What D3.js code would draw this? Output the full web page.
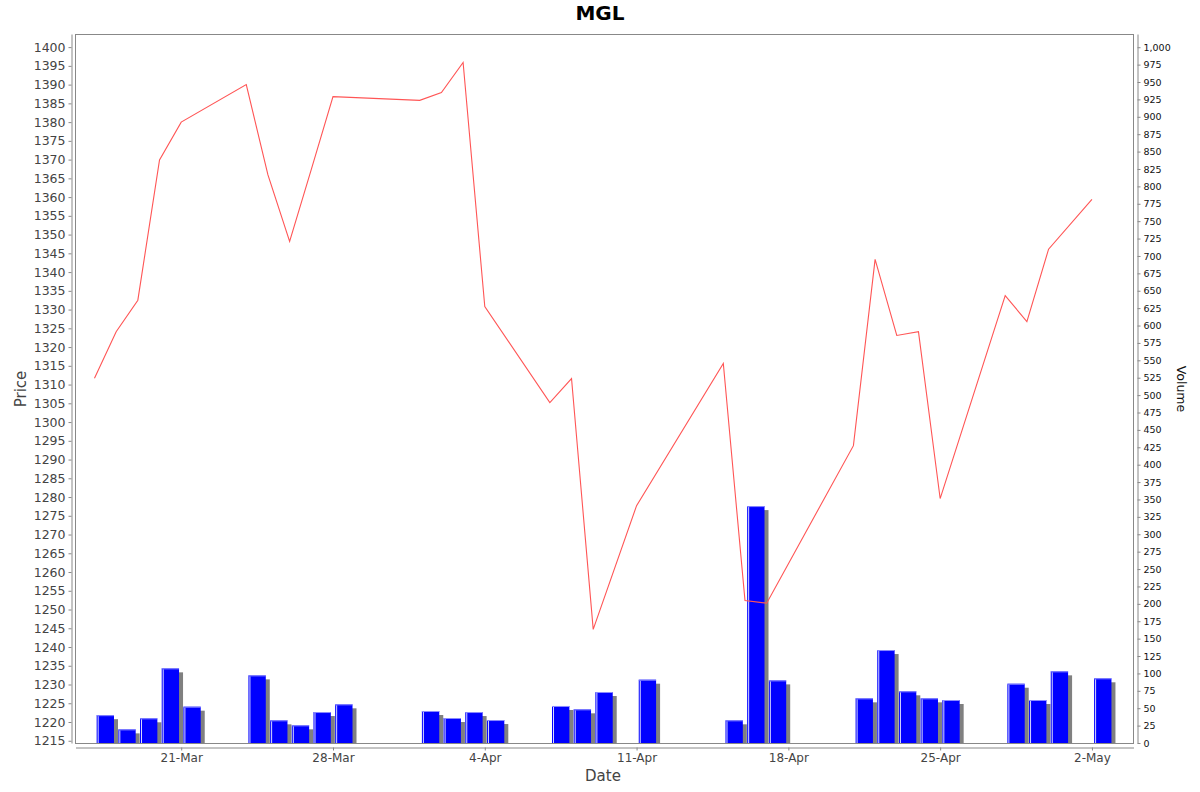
<!DOCTYPE html>
<html>
<head>
<meta charset="utf-8">
<script src="https://cdn.jsdelivr.net/npm/d3@7"></script>
<style>
  body { margin: 0; background: #fff; }
  text { font-family: "DejaVu Sans", sans-serif; }
</style>
</head>
<body>
<svg id="chart" width="1200" height="792"></svg>
<script>
// trading days (NSE, 2025)
const dates = [
  "2025-03-17", "2025-03-18", "2025-03-19", "2025-03-20", "2025-03-21",
  "2025-03-24", "2025-03-25", "2025-03-26", "2025-03-27", "2025-03-28",
  "2025-04-01", "2025-04-02", "2025-04-03", "2025-04-04",
  "2025-04-07", "2025-04-08", "2025-04-09", "2025-04-11",
  "2025-04-15", "2025-04-16", "2025-04-17",
  "2025-04-21", "2025-04-22", "2025-04-23", "2025-04-24", "2025-04-25",
  "2025-04-28", "2025-04-29", "2025-04-30", "2025-05-02"
];
const prices = [
  1311.7, 1324.1, 1332.5, 1369.9, 1380.0,
  1390.0, 1365.9, 1348.2, 1367.4, 1386.8,
  1385.8, 1387.9, 1395.9, 1330.8,
  1305.2, 1311.6, 1244.7, 1277.7,
  1315.6, 1252.4, 1251.7,
  1293.7, 1343.4, 1323.1, 1324.1, 1279.6,
  1333.7, 1326.8, 1346.1, 1359.4
];
const volumes = [
  40, 19.6, 35.5, 107.3, 52.2,
  97.2, 32.6, 25.4, 44.5, 55.6,
  46, 35.9, 44.5, 33,
  53.2, 48.4, 73.3, 91,
  32.6, 340.5, 90,
  64.2, 133.6, 74.3, 64.2, 61.8,
  85.2, 61.8, 103, 93
];
const dateTicks = ["2025-03-21", "2025-03-28", "2025-04-04", "2025-04-11", "2025-04-18", "2025-04-25", "2025-05-02"];

const parse = d3.utcParse("%Y-%m-%d");
const DAY = 864e5;
const rows = dates.map((d, i) => ({ date: parse(d), price: prices[i], volume: volumes[i] }));

const plot = { left: 75.5, right: 1133.5, top: 34, bottom: 743 };
const svg = d3.select("#chart");

const x = d3.scaleUtc()
  .domain([new Date(+parse("2025-03-16") + 3 * 36e5), new Date(+parse("2025-05-03") + 22 * 36e5)])
  .range([plot.left, plot.right]);
const yPrice = d3.scaleLinear().domain([1214.4, 1403.5]).range([plot.bottom, plot.top]);
const yVol = d3.scaleLinear().domain([0, 1019]).range([plot.bottom, plot.top]);

// plot frame
svg.append("rect")
  .attr("x", plot.left).attr("y", plot.top + 0.5)
  .attr("width", plot.right - plot.left).attr("height", plot.bottom - plot.top)
  .attr("fill", "#fff").attr("stroke", "#888");

// volume bars: shadow, body, highlight
const bars = svg.append("g").selectAll("g").data(rows).enter().append("g");
const bx0 = d => x(new Date(+d.date + 0.1 * DAY));
const bx1 = d => x(new Date(+d.date + 0.9 * DAY));

bars.append("rect")
  .attr("x", d => bx0(d) + 4)
  .attr("y", d => yVol(d.volume) + 4)
  .attr("width", d => bx1(d) - bx0(d))
  .attr("height", d => Math.max(0, plot.bottom - yVol(d.volume) - 4))
  .attr("fill", "#808080");

bars.append("rect")
  .attr("x", bx0)
  .attr("y", d => yVol(d.volume))
  .attr("width", d => bx1(d) - bx0(d))
  .attr("height", d => plot.bottom - yVol(d.volume))
  .attr("fill", "#0000ff");

bars.append("line")
  .attr("x1", d => bx0(d) + 1.5).attr("x2", d => bx0(d) + 1.5)
  .attr("y1", d => yVol(d.volume) + 1).attr("y2", plot.bottom)
  .attr("stroke", "#fff").attr("stroke-opacity", 0.85).attr("stroke-width", 1);

bars.append("line")
  .attr("x1", bx0).attr("x2", bx1)
  .attr("y1", d => yVol(d.volume) + 0.5).attr("y2", d => yVol(d.volume) + 0.5)
  .attr("stroke", "#8c8cff").attr("stroke-width", 1);

// price line
const line = d3.line().x(d => x(d.date)).y(d => yPrice(d.price));
svg.append("path")
  .datum(rows)
  .attr("d", line)
  .attr("fill", "none")
  .attr("stroke", "#ff5555")
  .attr("stroke-width", 1.1);

// axes
function styleAxis(g, color, size) {
  g.selectAll("path.domain").attr("stroke", "#888");
  g.selectAll(".tick line").attr("stroke", "#888");
  g.selectAll(".tick text")
    .attr("fill", color)
    .style("font-family", '"DejaVu Sans", sans-serif')
    .style("font-size", size);
}

const leftAxis = svg.append("g")
  .attr("transform", "translate(71.5,0)")
  .call(d3.axisLeft(yPrice).tickValues(d3.range(1215, 1401, 5)).tickFormat(d3.format("d")).tickSize(3).tickSizeOuter(0).tickPadding(3));
styleAxis(leftAxis, "#444", "12.5px");

const rightAxis = svg.append("g")
  .attr("transform", "translate(1137.5,0)")
  .call(d3.axisRight(yVol).tickValues(d3.range(0, 1001, 25)).tickFormat(d3.format(",")).tickSize(3).tickSizeOuter(0).tickPadding(3));
styleAxis(rightAxis, "#111", "9.5px");

const bottomAxis = svg.append("g")
  .attr("transform", "translate(0,747.5)")
  .call(d3.axisBottom(x).tickValues(dateTicks.map(parse)).tickFormat(d3.utcFormat("%-d-%b")).tickSize(3).tickSizeOuter(0).tickPadding(3));
styleAxis(bottomAxis, "#444", "12px");

// titles
svg.append("text")
  .attr("x", 600).attr("y", 20)
  .attr("text-anchor", "middle")
  .style("font-size", "20px").style("font-weight", "bold")
  .attr("fill", "#000")
  .text("MGL");

svg.append("text")
  .attr("x", 603).attr("y", 781)
  .attr("text-anchor", "middle")
  .style("font-size", "15px")
  .attr("fill", "#444")
  .text("Date");

svg.append("text")
  .attr("transform", "translate(26,389) rotate(-90)")
  .attr("text-anchor", "middle")
  .style("font-size", "15px")
  .attr("fill", "#444")
  .text("Price");

svg.append("text")
  .attr("transform", "translate(1177,389) rotate(90)")
  .attr("text-anchor", "middle")
  .style("font-size", "12.5px")
  .attr("fill", "#111")
  .text("Volume");
</script>
</body>
</html>
